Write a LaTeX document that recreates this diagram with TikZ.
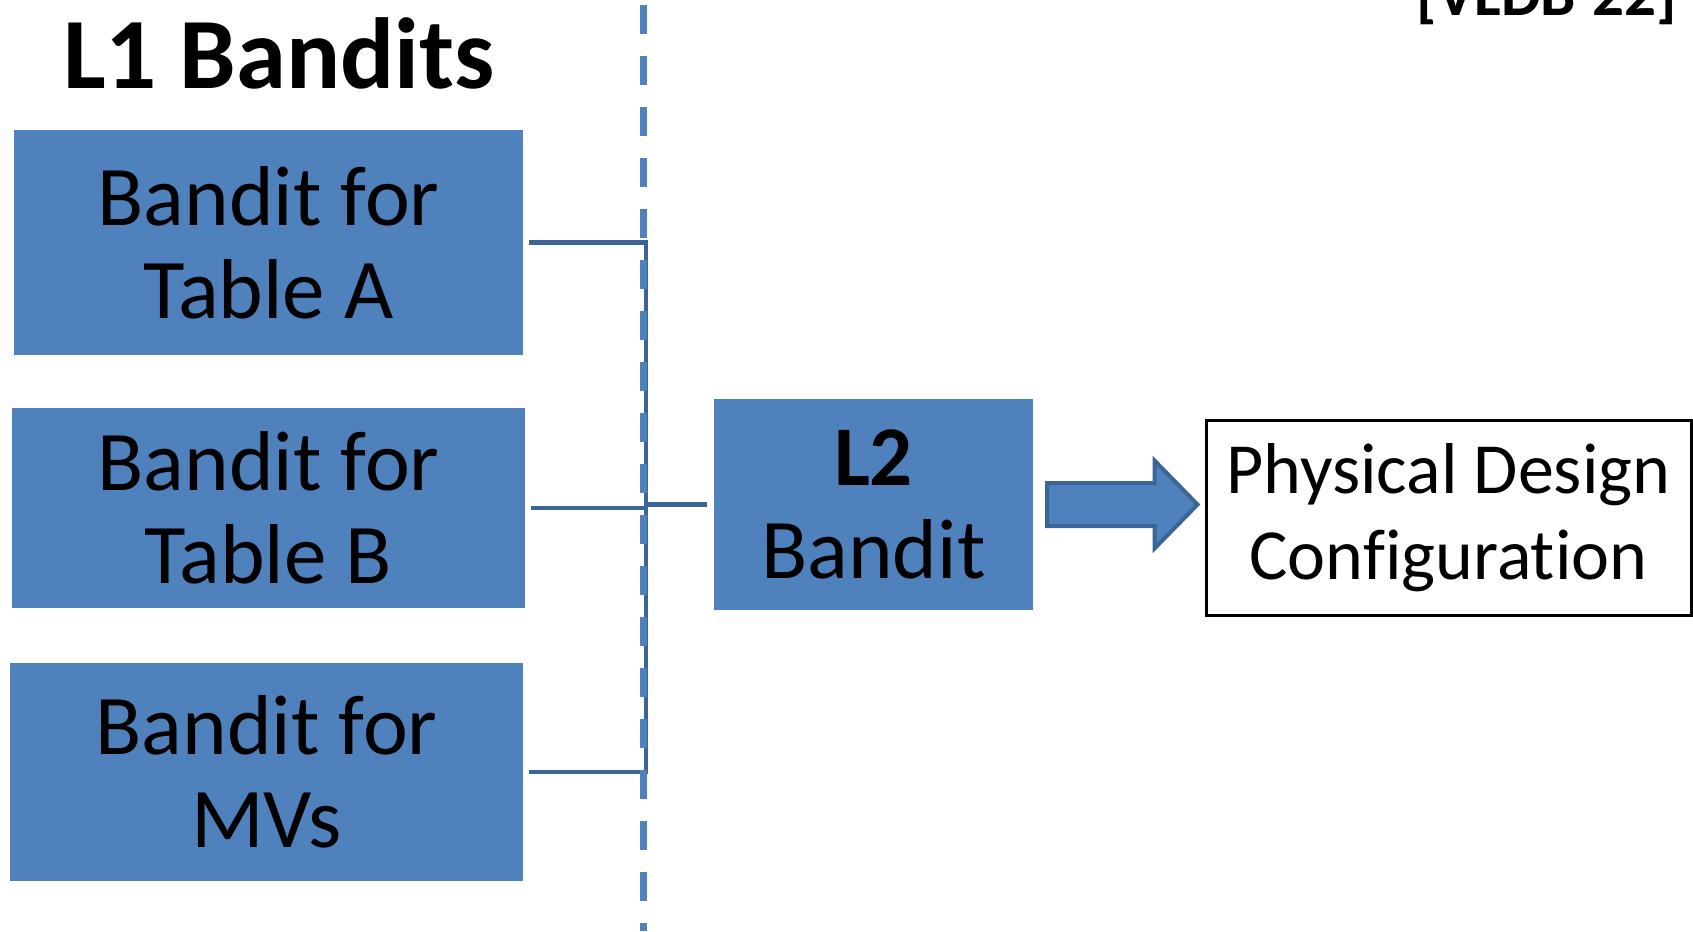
\documentclass[tikz,border=0pt]{standalone}
\usepackage{fontspec}
\setmainfont{Carlito}[Ligatures=CommonOff]
\usetikzlibrary{calc}
\definecolor{boxblue}{HTML}{4F81BD}
\definecolor{edgeblue}{HTML}{3B6497}
\tikzset{
  lbox/.style={fill=boxblue, draw=none, inner sep=0pt, align=center,
    font=\fontsize{85}{93}\selectfont},
  outbox/.style={fill=white, draw=black, line width=3pt, inner sep=0pt, align=center,
    font=\fontsize{72}{86}\selectfont},
  bracketline/.style={draw=edgeblue, line width=4.5pt, line join=miter},
  divider/.style={draw=boxblue, line width=7.3pt, dash pattern=on 29pt off 22pt},
  blockarrow/.style={fill=boxblue, draw=edgeblue, line width=4pt, line join=miter}
}
\begin{document}
\begin{tikzpicture}[x=1pt, y=-1pt]
\useasboundingbox (0,0) rectangle (1693,931);
% boxes
\node[lbox, minimum width=509pt, minimum height=225pt] (a) at (268.5,242.5) {Bandit for\\Table A};
\node[lbox, minimum width=513pt, minimum height=200pt] (b) at (268.5,508) {Bandit for\\Table B};
\node[lbox, minimum width=513pt, minimum height=218pt] (mv) at (266.5,772) {Bandit for\\MVs};
\node[lbox, minimum width=319pt, minimum height=211pt] (l2) at (873.5,504.5) {\textbf{L2}\\Bandit};
\node[outbox, minimum width=485pt, minimum height=195pt] (pd) at (1448.5,517.5) {Physical Design\\Configuration};
% titles
\node[anchor=base, inner sep=0pt, font=\fontsize{101}{110}\selectfont\bfseries] (title) at (279,89) {L1 Bandits};
\node[anchor=base east, inner sep=0pt, font=\fontsize{63}{70}\selectfont\bfseries] (venue) at (1677,16) {[VLDB'22]};
% bracket
\coordinate (jx) at (646,504);
\draw[bracketline] ($(a.east)+(6,0)$) -- (a.east -| jx) -- (mv.east -| jx) -- ($(mv.east)+(6,0)$);
\draw[bracketline] ($(b.east)+(6,0)$) -- (b.east -| jx);
\draw[bracketline] (l2.west -| jx) -- ($(l2.west)+(-7,0)$);
% divider
\draw[divider] (643.7,5) -- (643.7,931);
% block arrow
\coordinate (s) at ($(l2.east)+(14,0)$);
\coordinate (t) at ($(pd.west |- l2.east)+(-7,0)$);
\draw[blockarrow] ($(s)+(0,-21.5)$) -- ($(t)+(-43,-21.5)$) -- ($(t)+(-43,-44)$) -- (t)
  -- ($(t)+(-43,44)$) -- ($(t)+(-43,21.5)$) -- ($(s)+(0,21.5)$) -- cycle;
\end{tikzpicture}
\end{document}
